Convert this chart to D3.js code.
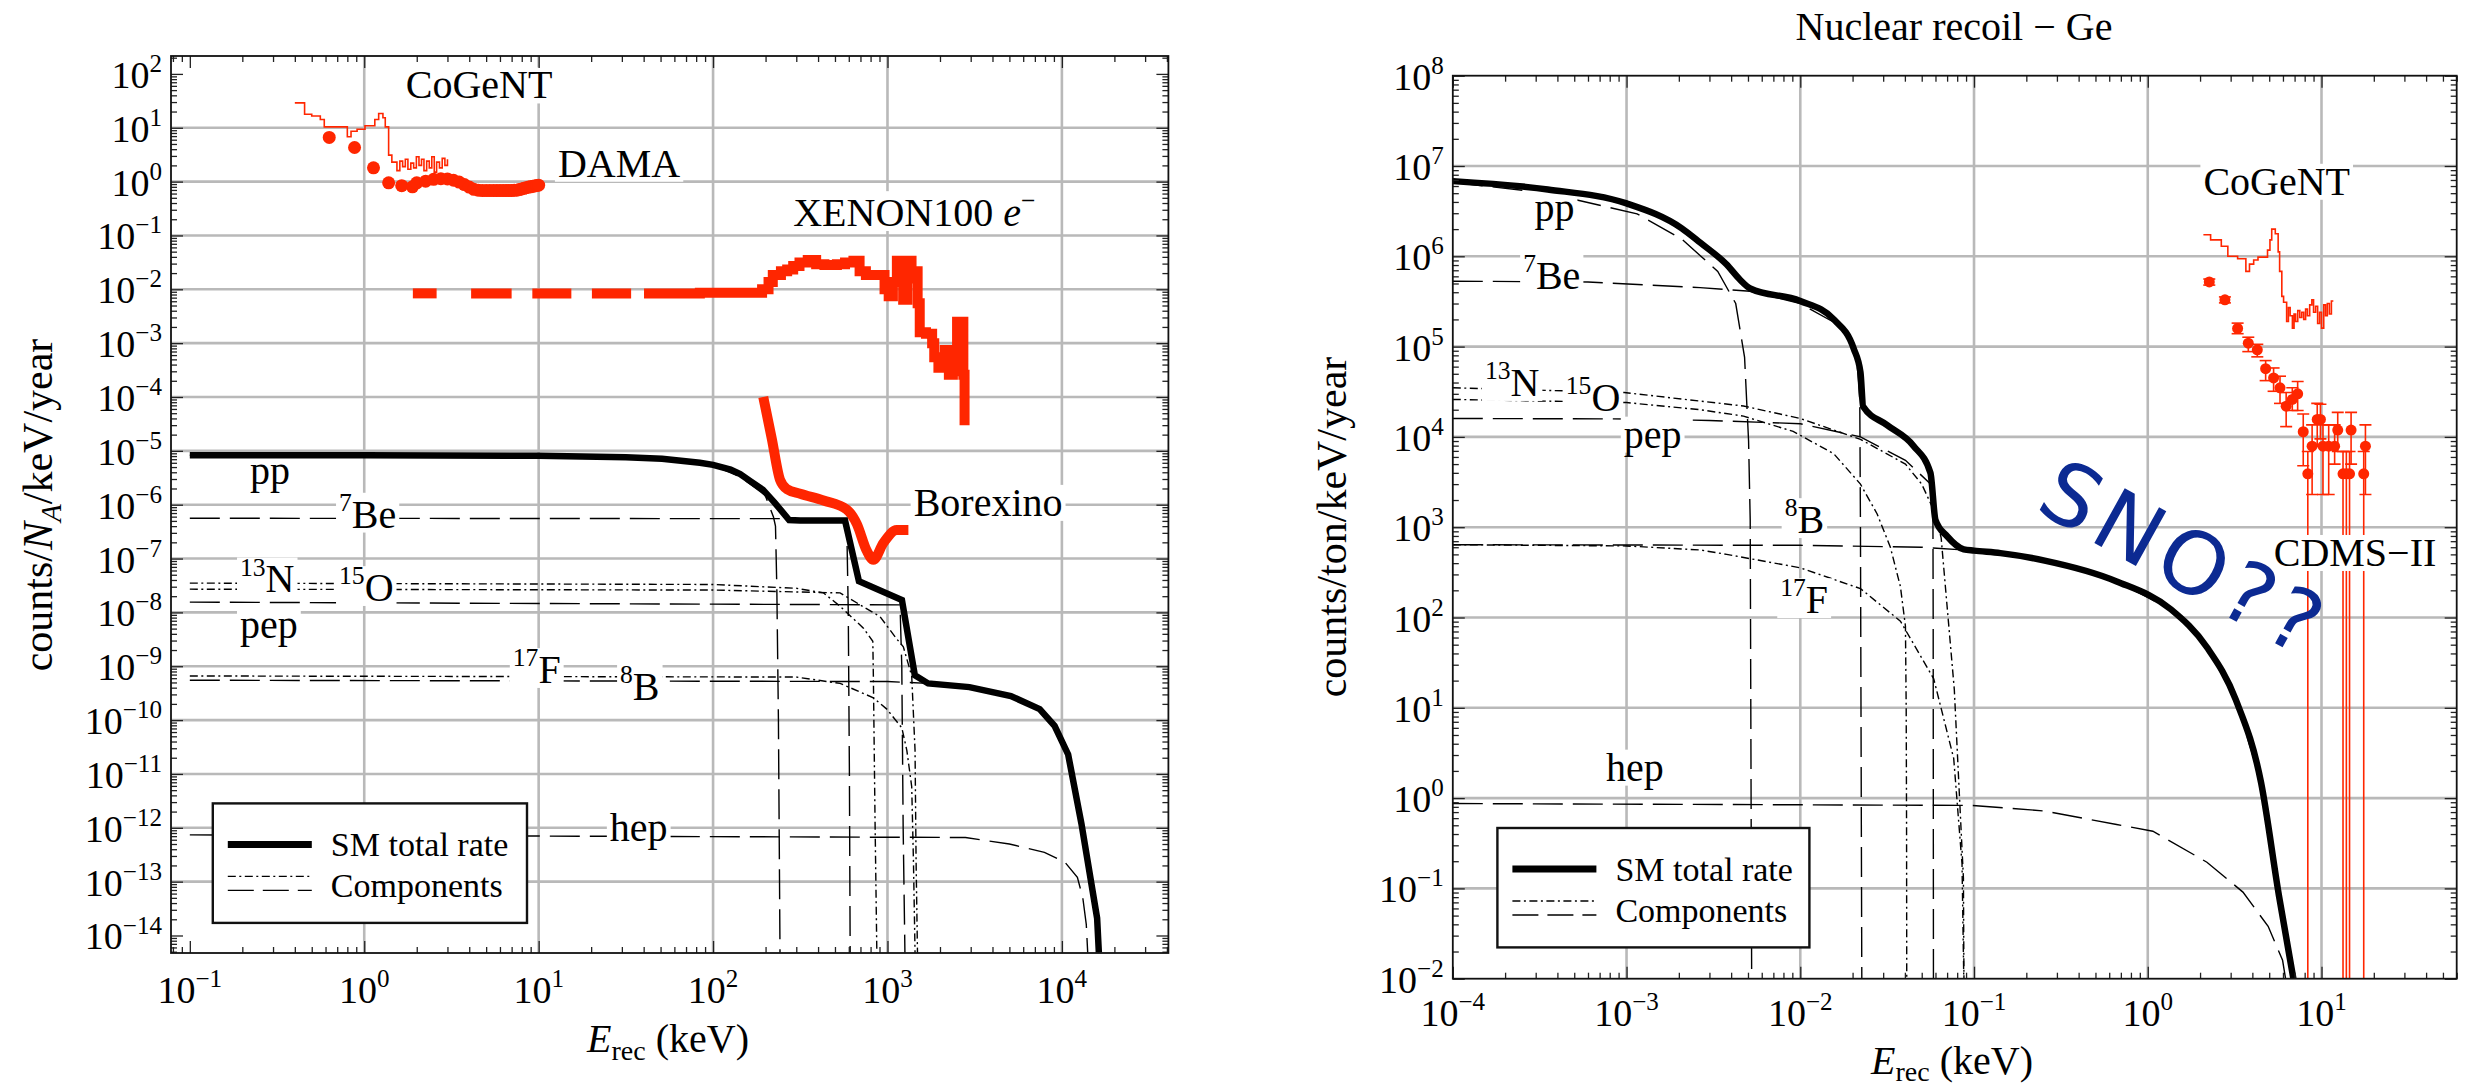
<!DOCTYPE html>
<html><head><meta charset="utf-8">
<script src="https://cdn.jsdelivr.net/npm/d3@7"></script>
<style>
body{margin:0;background:#fff;}
svg{display:block;}
text{font-family:"Liberation Serif","Times New Roman",serif;fill:#000;}
</style>
</head><body>
<svg id="chart" width="2465" height="1091"></svg>
<script>
// ---------------- DATA : left panel (electron recoil, counts/N_A/keV/year) ----------------
const leftXTicks = [0.1, 1, 10, 100, 1000, 10000];
const leftXTickExp = ["\u22121", "0", "1", "2", "3", "4"];
const leftYTicks = [1e2,1e1,1e0,1e-1,1e-2,1e-3,1e-4,1e-5,1e-6,1e-7,1e-8,1e-9,1e-10,1e-11,1e-12,1e-13,1e-14];
const leftYTickExp = ["2","1","0","\u22121","\u22122","\u22123","\u22124","\u22125","\u22126","\u22127","\u22128","\u22129","\u221210","\u221211","\u221212","\u221213","\u221214"];
const leftGridX = [1, 10, 100, 1000, 10000];
const leftGridY = [1e1,1e0,1e-1,1e-2,1e-3,1e-4,1e-5,1e-6,1e-7,1e-8,1e-9,1e-10,1e-11,1e-12,1e-13];

const leftSM = [[0.1,8.3e-6],[1,8.3e-6],[10,8.1e-6],[31.6,7.6e-6],[51,7.1e-6],[84,6.0e-6],[100,5.5e-6],[126,4.5e-6],[143,3.7e-6],[162,2.8e-6],[193,1.9e-6],[224,1.12e-6],[273,5.2e-7],[316,5.1e-7],[571,5.1e-7],[686,3.8e-8],[1210,1.7e-8],[1435,6.8e-10],[1710,4.8e-10],[2950,4.1e-10],[5100,2.8e-10],[7460,1.6e-10],[9080,7.8e-11],[10860,2.3e-11],[12940,1.2e-12],[15920,2.1e-14],[16290,4.8e-15]];
const leftPP = [[0.1,8.3e-6],[10,8.1e-6],[51,7.0e-6],[100,5.4e-6],[143,3.3e-6],[199,1.5e-6],[222,5.9e-7],[228,4.0e-7],[232,3e-8],[237,1e-10],[242,4.8e-15]];
const leftBe7 = [[0.1,5.6e-7],[300,5.5e-7],[571,4.9e-7],[585,3.2e-7],[596,1e-8],[605,1e-11],[611,4.8e-15]];
const leftN13 = [[0.1,3.5e-8],[100,3.3e-8],[300,2.8e-8],[430,2.3e-8],[535,1.3e-8],[728,5.1e-9],[824,2.9e-9],[830,6.6e-10],[849,1.2e-12],[869,4.8e-15]];
const leftO15 = [[0.1,2.7e-8],[100,2.6e-8],[535,2.3e-8],[908,8.3e-9],[1130,3.2e-9],[1233,2.3e-9],[1377,6.6e-10],[1439,2.75e-11],[1459,2.4e-13],[1486,4.8e-15]];
const leftPep = [[0.1,1.55e-8],[1180,1.38e-8],[1208,1e-9],[1230,1e-12],[1259,4.8e-15]];
const leftF17 = [[0.1,6.6e-10],[300,6.3e-10],[535,4.8e-10],[830,2.6e-10],[991,1.6e-10],[1208,7.2e-11],[1291,2.75e-11],[1377,5.8e-12],[1409,2.4e-13],[1439,4.8e-15]];
const leftB8 = [[0.1,5.5e-10],[1000,5.2e-10],[1710,4.8e-10],[2950,4.1e-10],[5100,2.8e-10],[7460,1.6e-10],[9080,7.8e-11],[10860,2.3e-11],[12940,1.2e-12],[15920,2.1e-14],[16290,4.8e-15]];
const leftHep = [[0.1,7.4e-13],[2800,6.6e-13],[5000,5.0e-13],[7940,3.5e-13],[10400,2.3e-13],[12270,1.2e-13],[13180,5e-14],[13800,1.6e-14],[14060,4.8e-15]];

// experimental data (left)
const leftCogentHist = [[0.40,29],[0.455,17.8],[0.50,16.5],[0.56,14.2],[0.59,10.4],[0.80,6.8],[0.84,8.6],[0.91,9.4],[1.01,10.9],[1.15,14.2],[1.21,18.4],[1.28,15.3],[1.32,10.4],[1.38,3.1],[1.44,2.3],[1.54,1.6],[1.6,2.4],[1.66,1.9],[1.72,2.6],[1.78,1.7],[1.85,2.2],[1.92,1.8],[1.99,2.9],[2.06,2.0],[2.13,2.6],[2.2,1.6],[2.28,2.4],[2.36,1.8],[2.44,2.9],[2.52,1.5],[2.6,2.3],[2.7,1.8],[2.8,2.7],[2.9,2.0],[3.0,2.6]];
const leftCogentDots = [[0.63,6.6],[0.88,4.3],[1.13,1.80],[1.38,0.95],[1.64,0.84],[1.89,0.80]];
const damaPoints = [[2.0,0.95],[2.25,1.02],[2.5,1.1],[2.75,1.13],[3.0,1.12],[3.25,1.06],[3.5,0.98],[3.75,0.88],[4.0,0.79],[4.25,0.72],[4.5,0.69],[4.75,0.68],[5.0,0.68],[5.25,0.68],[5.5,0.68],[5.75,0.68],[6.0,0.68],[6.25,0.68],[6.5,0.68],[6.75,0.68],[7.0,0.68],[7.25,0.69],[7.5,0.69],[7.75,0.71],[8.0,0.73],[8.25,0.75],[8.5,0.77],[8.75,0.79],[9.0,0.80],[9.25,0.82],[9.5,0.83],[9.75,0.85],[10.0,0.86]];
const xenonDashes = [[1.9,2.6,8.4e-3],[4.1,7.0,8.4e-3],[9.2,15.4,8.4e-3],[20.2,33.9,8.4e-3]];
const xenonSteps = [[40.2,8.4e-3],[84,8.6e-3],[172,8.6e-3],[191,1.0e-2],[208,1.36e-2],[220,1.85e-2],[245,2.16e-2],[266,2.33e-2],[288,2.71e-2],[313,3.16e-2],[349,3.5e-2],[390,2.92e-2],[435,2.84e-2],[513,2.92e-2],[571,3.16e-2],[638,3.4e-2],[692,2.16e-2],[752,1.85e-2],[887,1.85e-2],[962,1.0e-2],[1016,7.4e-3],[1074,1.36e-2],[1132,3.4e-2],[1197,2.16e-2],[1230,6.4e-3],[1300,3.4e-2],[1374,1.59e-2],[1449,2.16e-2],[1489,5.5e-3],[1531,1.6e-3],[1663,1.5e-3],[1803,1.0e-3],[1854,5.5e-4],[1959,3.5e-4],[2128,7.5e-4],[2249,2.6e-4],[2371,3.0e-4],[2506,2.5e-3],[2618,2.5e-3],[2723,2.6e-4],[2767,3.0e-5]];
const borexino = [[194,1.0e-4],[217,1.7e-5],[242,2.9e-6],[265,1.95e-6],[316,1.6e-6],[430,1.2e-6],[585,8.1e-7],[667,4.4e-7],[760,1.4e-7],[830,9.5e-8],[948,1.95e-7],[1130,3.4e-7],[1318,3.4e-7]];

// ---------------- DATA : right panel (nuclear recoil Ge, counts/ton/keV/year) ----------------
const rightXTicks = [1e-4, 1e-3, 1e-2, 1e-1, 1, 10];
const rightXTickExp = ["\u22124","\u22123","\u22122","\u22121","0","1"];
const rightYTicks = [1e8,1e7,1e6,1e5,1e4,1e3,1e2,1e1,1e0,1e-1,1e-2];
const rightYTickExp = ["8","7","6","5","4","3","2","1","0","\u22121","\u22122"];
const rightGridX = [1e-3, 1e-2, 1e-1, 1, 10];
const rightGridY = [1e7,1e6,1e5,1e4,1e3,1e2,1e1,1e0,1e-1];

const rightSM = [[1e-4,6.8e6],[3.52e-4,5.5e6],[1e-3,3.85e6],[2.08e-3,2.04e6],[2.65e-3,1.42e6],[3.77e-3,8.1e5],[4.5e-3,5.5e5],[5.15e-3,4.4e5],[0.01,3.2e5],[0.0156,2.0e5],[0.0203,9.5e4],[0.0222,5.2e4],[0.023,2.17e4],[0.0316,1.35e4],[0.045,7.9e3],[0.0561,4.0e3],[0.06,1.2e3],[0.07,794],[0.0873,568],[0.1,550],[0.142,516],[0.255,427],[0.662,251],[1.36,123],[2.19,46.8],[3.21,12.3],[4.49,1.48],[5.69,0.083],[6.89,0.01]];
const rightPP = [[1e-4,6.6e6],[3.52e-4,5.0e6],[1.15e-3,2.95e6],[2.08e-3,1.55e6],[3.35e-3,6.8e5],[4.25e-3,3.0e5],[4.78e-3,7.6e4],[5.04e-3,9.0e3],[5.15e-3,1.2e3],[5.25e-3,0.01]];
const rightBe7 = [[1e-4,5.3e5],[6e-4,5.2e5],[2.65e-3,4.5e5],[5.15e-3,4.1e5],[0.01,3.0e5],[0.0156,1.86e5],[0.0194,1.17e5],[0.0212,6.8e4],[0.022,2.6e4],[0.0222,1e3],[0.0226,0.01]];
const rightN13 = [[1e-4,2.6e4],[1e-3,2.4e4],[2.65e-3,2.0e4],[4.71e-3,1.7e4],[9.1e-3,1.15e4],[0.0156,6.5e3],[0.0222,3.0e3],[0.0277,1.4e3],[0.033,600],[0.0377,220],[0.0403,80],[0.0407,10],[0.0409,0.5],[0.041,0.01]];
const rightO15 = [[1e-4,3.5e4],[9.7e-4,3.1e4],[4.71e-3,2.2e4],[0.01,1.6e4],[0.0222,9.4e3],[0.0403,5.0e3],[0.05,3.0e3],[0.06,1.4e3],[0.0647,760],[0.077,16],[0.0869,0.13],[0.0875,0.01]];
const rightPep = [[1e-4,1.6e4],[1e-3,1.58e4],[3e-3,1.52e4],[0.01,1.4e4],[0.0222,1.0e4],[0.0403,5.5e3],[0.0574,2.9e3],[0.058,1.5e3],[0.0582,100],[0.0584,0.01]];
const rightF17 = [[1e-4,640],[1e-3,620],[2.65e-3,560],[3.77e-3,500],[0.01,355],[0.0222,209],[0.0377,91],[0.0586,21],[0.0764,2.75],[0.0853,0.186],[0.0873,0.01]];
const rightB8 = [[1e-4,640],[0.01,630],[0.05,600],[0.1,550],[0.142,516],[0.255,427],[0.662,251],[1.36,123],[2.19,46.8],[3.21,12.3],[4.49,1.48],[5.69,0.083],[6.89,0.01]];
const rightHep = [[1e-4,0.87],[0.098,0.83],[0.255,0.72],[0.662,0.51],[1.07,0.43],[2.19,0.195],[3.53,0.091],[4.93,0.038],[5.97,0.016],[6.21,0.01]];

const rightCogentHist = [[2.09,1.73e6],[2.30,1.52e6],[2.65,1.29e6],[2.89,1.0e6],[3.29,9.4e5],[3.67,6.8e5],[3.85,8.2e5],[4.07,9.1e5],[4.31,9.8e5],[4.89,1.17e6],[5.05,1.52e6],[5.17,2.0e6],[5.42,1.78e6],[5.63,1.12e6],[5.74,6.8e5],[5.91,3.6e5],[6.05,3.1e5],[6.3,1.9e5],[6.45,2.7e5],[6.6,2.2e5],[6.8,1.6e5],[6.95,2.3e5],[7.1,1.9e5],[7.3,2.5e5],[7.5,2.1e5],[7.7,2.4e5],[7.9,2.0e5],[8.1,2.6e5],[8.3,2.2e5],[8.55,2.9e5],[8.8,3.3e5],[9.0,2.4e5],[9.25,2.8e5],[9.5,1.8e5],[9.75,2.4e5],[10.0,1.6e5],[10.3,2.9e5],[10.55,2.2e5],[10.8,3.0e5],[11.1,2.3e5],[11.4,3.2e5],[11.7,3.2e5]];
// [energy, value, lower, upper]
const rightCogentPoints = [[2.26,5.2e5,4.8e5,5.6e5],[2.78,3.3e5,3.05e5,3.55e5],[3.29,1.59e5,1.39e5,1.82e5],[3.79,1.09e5,8.8e4,1.27e5],[4.27,9.2e4,7.7e4,1.06e5],[4.77,5.7e4,4.2e4,7.0e4],[5.30,4.5e4,3.2e4,5.8e4],[5.77,3.5e4,2.35e4,4.7e4],[6.26,2.19e4,1.30e4,3.1e4],[6.79,2.6e4,1.96e4,3.5e4],[7.29,3.0e4,1.96e4,4.1e4],[7.85,1.14e4,4.8e3,1.79e4],[8.34,3.9e3,0.001,6.9e3],[8.83,7.9e3,2.3e3,1.36e4],[9.45,1.56e4,7.9e3,2.35e4],[9.86,1.56e4,9.5e3,2.3e4],[10.2,7.9e3,2.3e3,1.36e4],[11.0,7.9e3,2.3e3,1.36e4],[11.9,7.9e3,5.0e3,1.36e4],[12.4,1.19e4,6.9e3,1.87e4],[13.3,3.9e3,0.001,6.9e3],[13.9,3.9e3,0.001,6.9e3],[14.5,3.9e3,0.001,6.9e3],[14.8,1.19e4,5.0e3,1.87e4],[17.5,3.9e3,0.001,6.9e3],[17.9,7.9e3,2.3e3,1.36e4]];

// annotation anchors in data coordinates [sup, main, energy, value]
const leftLabels = [["","CoGeNT",1.73,35],["","DAMA",12.9,1.23],["","Borexino",1413,6.2e-7],["","pp",0.221,2.45e-6],["7","Be",0.717,3.76e-7],["13","N",0.194,2.36e-8],["15","O",0.717,1.63e-8],["","pep",0.194,3.4e-9],["17","F",7.11,4.9e-10],["8","B",29.3,2.4e-10],["","hep",25.6,5.7e-13]];
const xenonLabelAnchor = [288, 0.15];
const rightLabels = [["","pp",2.95e-4,2.44e6],["7","Be",2.54e-4,4.35e5],["13","N",1.53e-4,2.84e4],["15","O",4.47e-4,1.96e4],["","pep",9.64e-4,7.6e3],["8","B",8.13e-3,863],["17","F",7.67e-3,112],["","hep",7.62e-4,1.56],["","CoGeNT",2.09,4.8e6],["","CDMS\u2212II",5.31,372]];

// ---------------- STYLE ----------------
const RED = "#ff2600";
const GRID = "#b9b9b9";
const LONG_DASH = "30,10";
const DOT_DASH = "8,3.5,2,3.5";
const TICK_FS = 38, LABEL_FS = 40;

const svg = d3.select("#chart");
svg.append("rect").attr("width",2465).attr("height",1091).attr("fill","#fff");

function logTickSets(domain) {
  const lo = Math.floor(Math.log10(domain[0])), hi = Math.ceil(Math.log10(domain[1]));
  const major = [], minor = [];
  for (let k = lo; k <= hi; k++) for (let m = 1; m < 10; m++) {
    const v = m * Math.pow(10, k);
    if (v < domain[0] * 0.9999 || v > domain[1] * 1.0001) continue;
    (m === 1 ? major : minor).push(v);
  }
  return {major, minor};
}

function makePanel(p) {
  const x = d3.scaleLog().domain(p.xDomain).range([p.x0, p.x1]);
  const y = d3.scaleLog().domain(p.yDomain).range([p.y1, p.y0]);
  const root = svg.append("g");
  svg.append("defs").append("clipPath").attr("id", p.id)
    .append("rect").attr("x", p.x0).attr("y", p.y0).attr("width", p.x1 - p.x0).attr("height", p.y1 - p.y0);
  const grid = root.append("g");
  grid.selectAll(".gx").data(p.gridX).join("line")
    .attr("x1", d => x(d)).attr("x2", d => x(d)).attr("y1", p.y0).attr("y2", p.y1)
    .attr("stroke", GRID).attr("stroke-width", 2.6);
  grid.selectAll(".gy").data(p.gridY).join("line")
    .attr("y1", d => y(d)).attr("y2", d => y(d)).attr("x1", p.x0).attr("x2", p.x1)
    .attr("stroke", GRID).attr("stroke-width", 2.6);
  const plot = root.append("g").attr("clip-path", `url(#${p.id})`);
  const over = root.append("g");
  const top = root.append("g").attr("clip-path", `url(#${p.id})`);
  return {x, y, root, plot, over, top, p};
}

function drawFrame(P) {
  const {x, y, root, p} = P;
  const fr = root.append("g");
  const tx = logTickSets(x.domain()), ty = logTickSets(y.domain());
  const axes = [
    [d3.axisBottom(x), `translate(0,${p.y1})`, tx],
    [d3.axisTop(x), `translate(0,${p.y0})`, tx],
    [d3.axisLeft(y), `translate(${p.x0},0)`, ty],
    [d3.axisRight(y), `translate(${p.x1},0)`, ty]
  ];
  axes.forEach(([ax, tr, t]) => {
    [[t.major, -12], [t.minor, -6]].forEach(([vals, size]) => {
      const g = fr.append("g").attr("transform", tr)
        .call(ax.tickValues(vals).tickSize(size).tickSizeOuter(0).tickFormat(() => ""));
      g.select(".domain").remove();
      g.selectAll("line").attr("stroke", "#222").attr("stroke-width", 1.3);
    });
  });
  fr.append("rect").attr("x", p.x0).attr("y", p.y0).attr("width", p.x1 - p.x0).attr("height", p.y1 - p.y0)
    .attr("fill", "none").attr("stroke", "#111").attr("stroke-width", 1.8);
}

function powLabel(g, x, y, exp, anchor) {
  const t = g.append("text").attr("x", x).attr("y", y).attr("font-size", TICK_FS).attr("text-anchor", anchor);
  t.append("tspan").text("10");
  t.append("tspan").attr("font-size", TICK_FS * 0.66).attr("dy", -TICK_FS * 0.42).text(exp);
  return t;
}

function tickLabels(P, xt, xe, yt, ye, xBase) {
  const {x, y, root, p} = P;
  const g = root.append("g");
  xt.forEach((v, i) => powLabel(g, x(v), xBase, xe[i], "middle"));
  yt.forEach((v, i) => powLabel(g, p.x0 - 9, y(v) + 14, ye[i], "end"));
}

function curve(P, data, opt) {
  const line = d3.line().x(d => P.x(d[0])).y(d => P.y(d[1])).curve(opt.curve || d3.curveLinear);
  return (opt.layer || P.plot).append("path").datum(data).attr("d", line).attr("fill", "none")
    .attr("stroke", opt.color || "#000").attr("stroke-width", opt.width || 1.4)
    .attr("stroke-dasharray", opt.dash || null).attr("stroke-linejoin", opt.join || "miter")
    .attr("stroke-linecap", opt.cap || "butt");
}

function isoLabel(g, x, y, sup, main, fs) {
  const t = g.append("text").attr("x", x).attr("y", y).attr("font-size", fs);
  if (sup) {
    t.append("tspan").attr("font-size", fs * 0.64).attr("dy", -fs * 0.42).text(sup);
    t.append("tspan").attr("dy", fs * 0.42).text(main);
  } else t.append("tspan").text(main);
  return t;
}

function whiteBack(g, t, pad) {
  const b = t.node().getBBox();
  g.insert("rect", () => t.node()).attr("x", b.x - pad).attr("y", b.y + 5).attr("width", b.width + 2 * pad)
    .attr("height", b.height - 9).attr("fill", "#fff");
}

function legend(P, bx, by, bw, bh) {
  const g = P.root.append("g");
  g.append("rect").attr("x", bx).attr("y", by).attr("width", bw).attr("height", bh)
    .attr("fill", "#fff").attr("stroke", "#111").attr("stroke-width", 2.4);
  const lx0 = bx + 15, lx1 = bx + 99;
  g.append("line").attr("x1", lx0).attr("x2", lx1).attr("y1", by + 41).attr("y2", by + 41)
    .attr("stroke", "#000").attr("stroke-width", 7);
  g.append("line").attr("x1", lx0).attr("x2", lx1).attr("y1", by + 73).attr("y2", by + 73)
    .attr("stroke", "#000").attr("stroke-width", 1.4).attr("stroke-dasharray", DOT_DASH);
  g.append("line").attr("x1", lx0).attr("x2", lx1).attr("y1", by + 87).attr("y2", by + 87)
    .attr("stroke", "#000").attr("stroke-width", 1.4).attr("stroke-dasharray", "26,9");
  g.append("text").attr("x", bx + 118).attr("y", by + 53).attr("font-size", 34).text("SM total rate");
  g.append("text").attr("x", bx + 118).attr("y", by + 94).attr("font-size", 34).text("Components");
}

function components(P, set) {
  set.forEach(([data, dash]) => curve(P, data, {dash, width: 1.4}));
}

// ================= LEFT PANEL =================
const L = makePanel({id: "clipL", x0: 171, x1: 1168.4, y0: 56, y1: 953,
  xDomain: [0.078, 40800], yDomain: [4.73e-15, 215], gridX: leftGridX, gridY: leftGridY});

components(L, [[leftPP, LONG_DASH], [leftBe7, LONG_DASH], [leftN13, DOT_DASH], [leftO15, DOT_DASH],
  [leftPep, LONG_DASH], [leftF17, DOT_DASH], [leftB8, LONG_DASH], [leftHep, LONG_DASH]]);

// red experimental data
curve(L, leftCogentHist, {color: RED, width: 1.6, curve: d3.curveStepAfter});
L.plot.selectAll(".cgd").data(leftCogentDots).join("circle")
  .attr("cx", d => L.x(d[0])).attr("cy", d => L.y(d[1])).attr("r", 6.5).attr("fill", RED);
L.plot.selectAll(".dama").data(damaPoints).join("circle")
  .attr("cx", d => L.x(d[0])).attr("cy", d => L.y(d[1])).attr("r", 6.5).attr("fill", RED);
L.plot.selectAll(".xd").data(xenonDashes).join("line")
  .attr("x1", d => L.x(d[0])).attr("x2", d => L.x(d[1])).attr("y1", d => L.y(d[2])).attr("y2", d => L.y(d[2]))
  .attr("stroke", RED).attr("stroke-width", 10);
curve(L, xenonSteps, {color: RED, width: 10, curve: d3.curveStepAfter});
curve(L, borexino, {color: RED, width: 10, curve: d3.curveMonotoneX, join: "round"});

// labels
{
  const g = L.over;
  leftLabels.forEach(([sup, main, e, v]) => {
    const t = isoLabel(g, L.x(e), L.y(v), sup, main, LABEL_FS);
    whiteBack(g, t, 3);
  });
  const t = g.append("text").attr("x", L.x(xenonLabelAnchor[0])).attr("y", L.y(xenonLabelAnchor[1])).attr("font-size", LABEL_FS);
  t.append("tspan").text("XENON100 ");
  t.append("tspan").attr("font-style", "italic").text("e");
  t.append("tspan").attr("font-size", LABEL_FS * 0.64).attr("dy", -LABEL_FS * 0.42).text("\u2212");
  whiteBack(g, t, 3);
}
// total rate drawn above the labels
curve(L, leftSM, {width: 6.5, layer: L.top});
legend(L, 212.8, 803.4, 314.2, 119.5);
drawFrame(L);
tickLabels(L, leftXTicks, leftXTickExp, leftYTicks, leftYTickExp, 1003);

// axis titles (left)
{
  const t = svg.append("text").attr("x", 668).attr("y", 1052).attr("font-size", 40).attr("text-anchor", "middle");
  t.append("tspan").attr("font-style", "italic").text("E");
  t.append("tspan").attr("font-size", 28).attr("dy", 8).text("rec");
  t.append("tspan").attr("dy", -8).text(" (keV)");
  const yl = svg.append("text").attr("transform", "translate(52,505) rotate(-90)").attr("font-size", 42)
    .attr("text-anchor", "middle");
  yl.append("tspan").text("counts/");
  yl.append("tspan").attr("font-style", "italic").text("N");
  yl.append("tspan").attr("font-style", "italic").attr("font-size", 29).attr("dy", 9).text("A");
  yl.append("tspan").attr("dy", -9).text("/keV/year");
}

// ================= RIGHT PANEL =================
const R = makePanel({id: "clipR", x0: 1452.8, x1: 2456.7, y0: 75.7, y1: 978.7,
  xDomain: [1e-4, 60], yDomain: [1e-2, 1e8], gridX: rightGridX, gridY: rightGridY});

components(R, [[rightPP, LONG_DASH], [rightBe7, LONG_DASH], [rightN13, DOT_DASH], [rightO15, DOT_DASH],
  [rightPep, LONG_DASH], [rightF17, DOT_DASH], [rightB8, LONG_DASH], [rightHep, LONG_DASH]]);

curve(R, rightCogentHist, {color: RED, width: 1.6, curve: d3.curveStepAfter});
{
  const eb = R.plot.append("g").attr("stroke", RED).attr("stroke-width", 1.6);
  eb.selectAll(".v").data(rightCogentPoints).join("line")
    .attr("x1", d => R.x(d[0])).attr("x2", d => R.x(d[0]))
    .attr("y1", d => Math.min(R.y(Math.max(d[2], 1e-3)), 985)).attr("y2", d => R.y(d[3]));
  eb.selectAll(".ct").data(rightCogentPoints).join("line")
    .attr("x1", d => R.x(d[0]) - 6).attr("x2", d => R.x(d[0]) + 6).attr("y1", d => R.y(d[3])).attr("y2", d => R.y(d[3]));
  eb.selectAll(".cb").data(rightCogentPoints.filter(d => d[2] > 0.01)).join("line")
    .attr("x1", d => R.x(d[0]) - 6).attr("x2", d => R.x(d[0]) + 6).attr("y1", d => R.y(d[2])).attr("y2", d => R.y(d[2]));
  R.plot.selectAll(".cgp").data(rightCogentPoints).join("circle")
    .attr("cx", d => R.x(d[0])).attr("cy", d => R.y(d[1])).attr("r", 5.5).attr("fill", RED);
}
{
  const g = R.over;
  rightLabels.forEach(([sup, main, e, v]) => {
    const t = isoLabel(g, R.x(e), R.y(v), sup, main, LABEL_FS);
    whiteBack(g, t, 3);
  });
}
curve(R, rightSM, {width: 6.5, curve: d3.curveMonotoneX, layer: R.top});
legend(R, 1497.4, 828, 312, 119.4);
drawFrame(R);
tickLabels(R, rightXTicks, rightXTickExp, rightYTicks, rightYTickExp, 1026);

{
  svg.append("text").attr("x", 1954).attr("y", 40).attr("font-size", 40).attr("text-anchor", "middle")
    .text("Nuclear recoil \u2212 Ge");
  const t = svg.append("text").attr("x", 1952).attr("y", 1074).attr("font-size", 40).attr("text-anchor", "middle");
  t.append("tspan").attr("font-style", "italic").text("E");
  t.append("tspan").attr("font-size", 28).attr("dy", 7).text("rec");
  t.append("tspan").attr("dy", -7).text(" (keV)");
  svg.append("text").attr("transform", "translate(1346,527) rotate(-90)").attr("font-size", 42)
    .attr("text-anchor", "middle").text("counts/ton/keV/year");
  // handwritten annotation
  svg.append("text").attr("transform", "translate(2170,585) rotate(29)").attr("font-size", 86)
    .attr("text-anchor", "middle").attr("letter-spacing", 7)
    .style("font-family", "'DejaVu Sans', sans-serif").style("fill", "#0c2a92").text("SNO??");
}
</script>
</body></html>
